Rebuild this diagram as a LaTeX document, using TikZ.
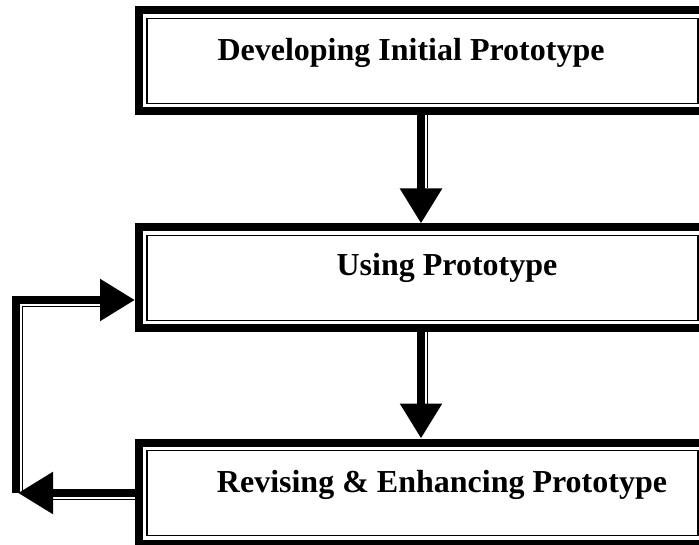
\documentclass[tikz,border=0pt]{standalone}
\usepackage{fontspec}
\setmainfont{Liberation Serif}
\usetikzlibrary{arrows.meta,positioning,calc}

\begin{document}
\begin{tikzpicture}[
    x=1pt, y=-1pt,
    stagebox/.style={draw=black, line width=8pt, minimum width=567pt, minimum height=101pt, inner sep=0pt,
                  path picture={\draw[line width=1.3pt] ([shift={(8pt,-8pt)}]path picture bounding box.north west)
                  rectangle ([shift={(-8pt,8pt)}]path picture bounding box.south east);}},
    stagetxt/.style={font=\fontsize{32}{38}\selectfont\bfseries, inner sep=0pt},
    arr/.style={line width=8.5pt, -{Triangle[length=35pt,width=40pt]}},
    rail/.style={line width=1.3pt}
]
\useasboundingbox (0,0) rectangle (699,545);
\node[stagebox] (dev) at (422.5,61) {};
\node[stagebox, below=108pt of dev] (use) {};
\node[stagebox, below=106pt of use] (rev) {};
\node[stagetxt, anchor=base] (devtxt) at ($(dev.north)+(-11.5,54.5)$) {Developing Initial Prototype};
\node[stagetxt, anchor=base] (usetxt) at ($(use.north)+(24.5,52.5)$) {Using Prototype};
\node[stagetxt, anchor=base] (revtxt) at ($(rev.north)+(19.5,53.5)$) {Revising \& Enhancing Prototype};
\coordinate (loopbot) at ([xshift=-117pt]rev.west);
\draw[arr] ([xshift=-1.5pt]dev.south) -- ([xshift=-1.5pt]use.north);
\draw[rail] ([xshift=5pt]dev.south) -- ++(0,73);
\draw[arr] ([xshift=-1.5pt]use.south) -- ([xshift=-1.5pt]rev.north);
\draw[rail] ([xshift=5pt]use.south) -- ++(0,71);
\draw[arr] (rev.west) -- (loopbot);
\draw[rail] ([yshift=-6.5pt]rev.west) -- ++(-82,0);
\draw[arr] ([xshift=-2pt]loopbot) |- ([yshift=-22pt]use.west);
\draw[rail] ($(loopbot)+(4.5,0)$) |- ($(use.west)+(-35,28.5)$);
\end{tikzpicture}
\end{document}
